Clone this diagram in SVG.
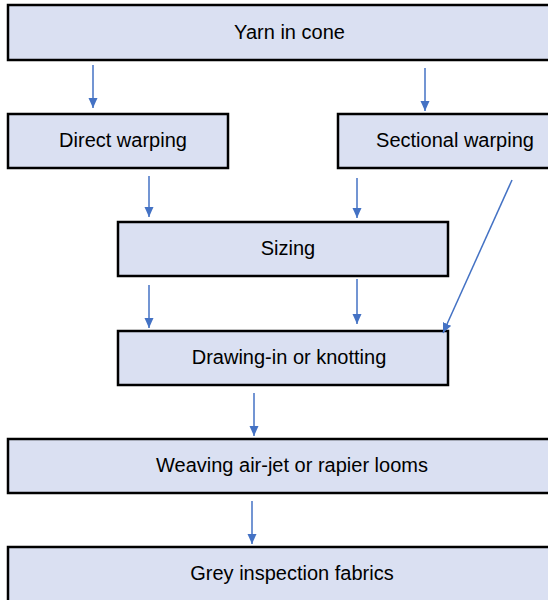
<svg xmlns="http://www.w3.org/2000/svg" width="548" height="600" viewBox="0 0 548 600">
<defs>
<style>
.box{fill:#DAE0F2;stroke:#000;stroke-width:2.5}
.lbl{font-family:"Liberation Sans",Arial,sans-serif;font-size:20px;fill:#000;text-anchor:middle}
.cn{stroke:#4472C4;stroke-width:1.5;fill:none;marker-end:url(#ah)}
</style>
<marker id="ah" markerUnits="userSpaceOnUse" markerWidth="10" markerHeight="10" viewBox="0 0 10 10" refX="10" refY="5" orient="auto">
<path d="M0,0.5 L10,5 L0,9.5 Z" fill="#4472C4"/>
</marker>
</defs>
<rect width="548" height="600" fill="#fff"/>
<g id="yarn"><rect class="box" x="8" y="5" width="568" height="55"/><text class="lbl" x="289.5" y="39">Yarn in cone</text></g>
<g id="direct"><rect class="box" x="8" y="114" width="220" height="54"/><text class="lbl" x="123" y="147">Direct warping</text></g>
<g id="sectional"><rect class="box" x="338" y="114" width="238" height="54"/><text class="lbl" x="455" y="147">Sectional warping</text></g>
<g id="sizing"><rect class="box" x="118" y="222" width="330" height="54"/><text class="lbl" x="288" y="255">Sizing</text></g>
<g id="drawing"><rect class="box" x="118" y="331" width="330" height="54"/><text class="lbl" x="289" y="364">Drawing-in or knotting</text></g>
<g id="weaving"><rect class="box" x="8" y="439" width="568" height="54"/><text class="lbl" x="292" y="472">Weaving air-jet or rapier looms</text></g>
<g id="grey"><rect class="box" x="8" y="547" width="568" height="56"/><text class="lbl" x="292" y="580">Grey inspection fabrics</text></g>
<g id="connectors">
<line class="cn" x1="93" y1="65" x2="93" y2="108"/>
<line class="cn" x1="425" y1="68" x2="425" y2="111"/>
<line class="cn" x1="149" y1="176" x2="149" y2="217"/>
<line class="cn" x1="357" y1="178" x2="357" y2="218"/>
<line class="cn" x1="512" y1="180" x2="443" y2="333"/>
<line class="cn" x1="149" y1="285" x2="149" y2="328"/>
<line class="cn" x1="357" y1="279" x2="357" y2="324"/>
<line class="cn" x1="254" y1="393" x2="254" y2="436"/>
<line class="cn" x1="252" y1="501" x2="252" y2="544"/>
</g>
</svg>
